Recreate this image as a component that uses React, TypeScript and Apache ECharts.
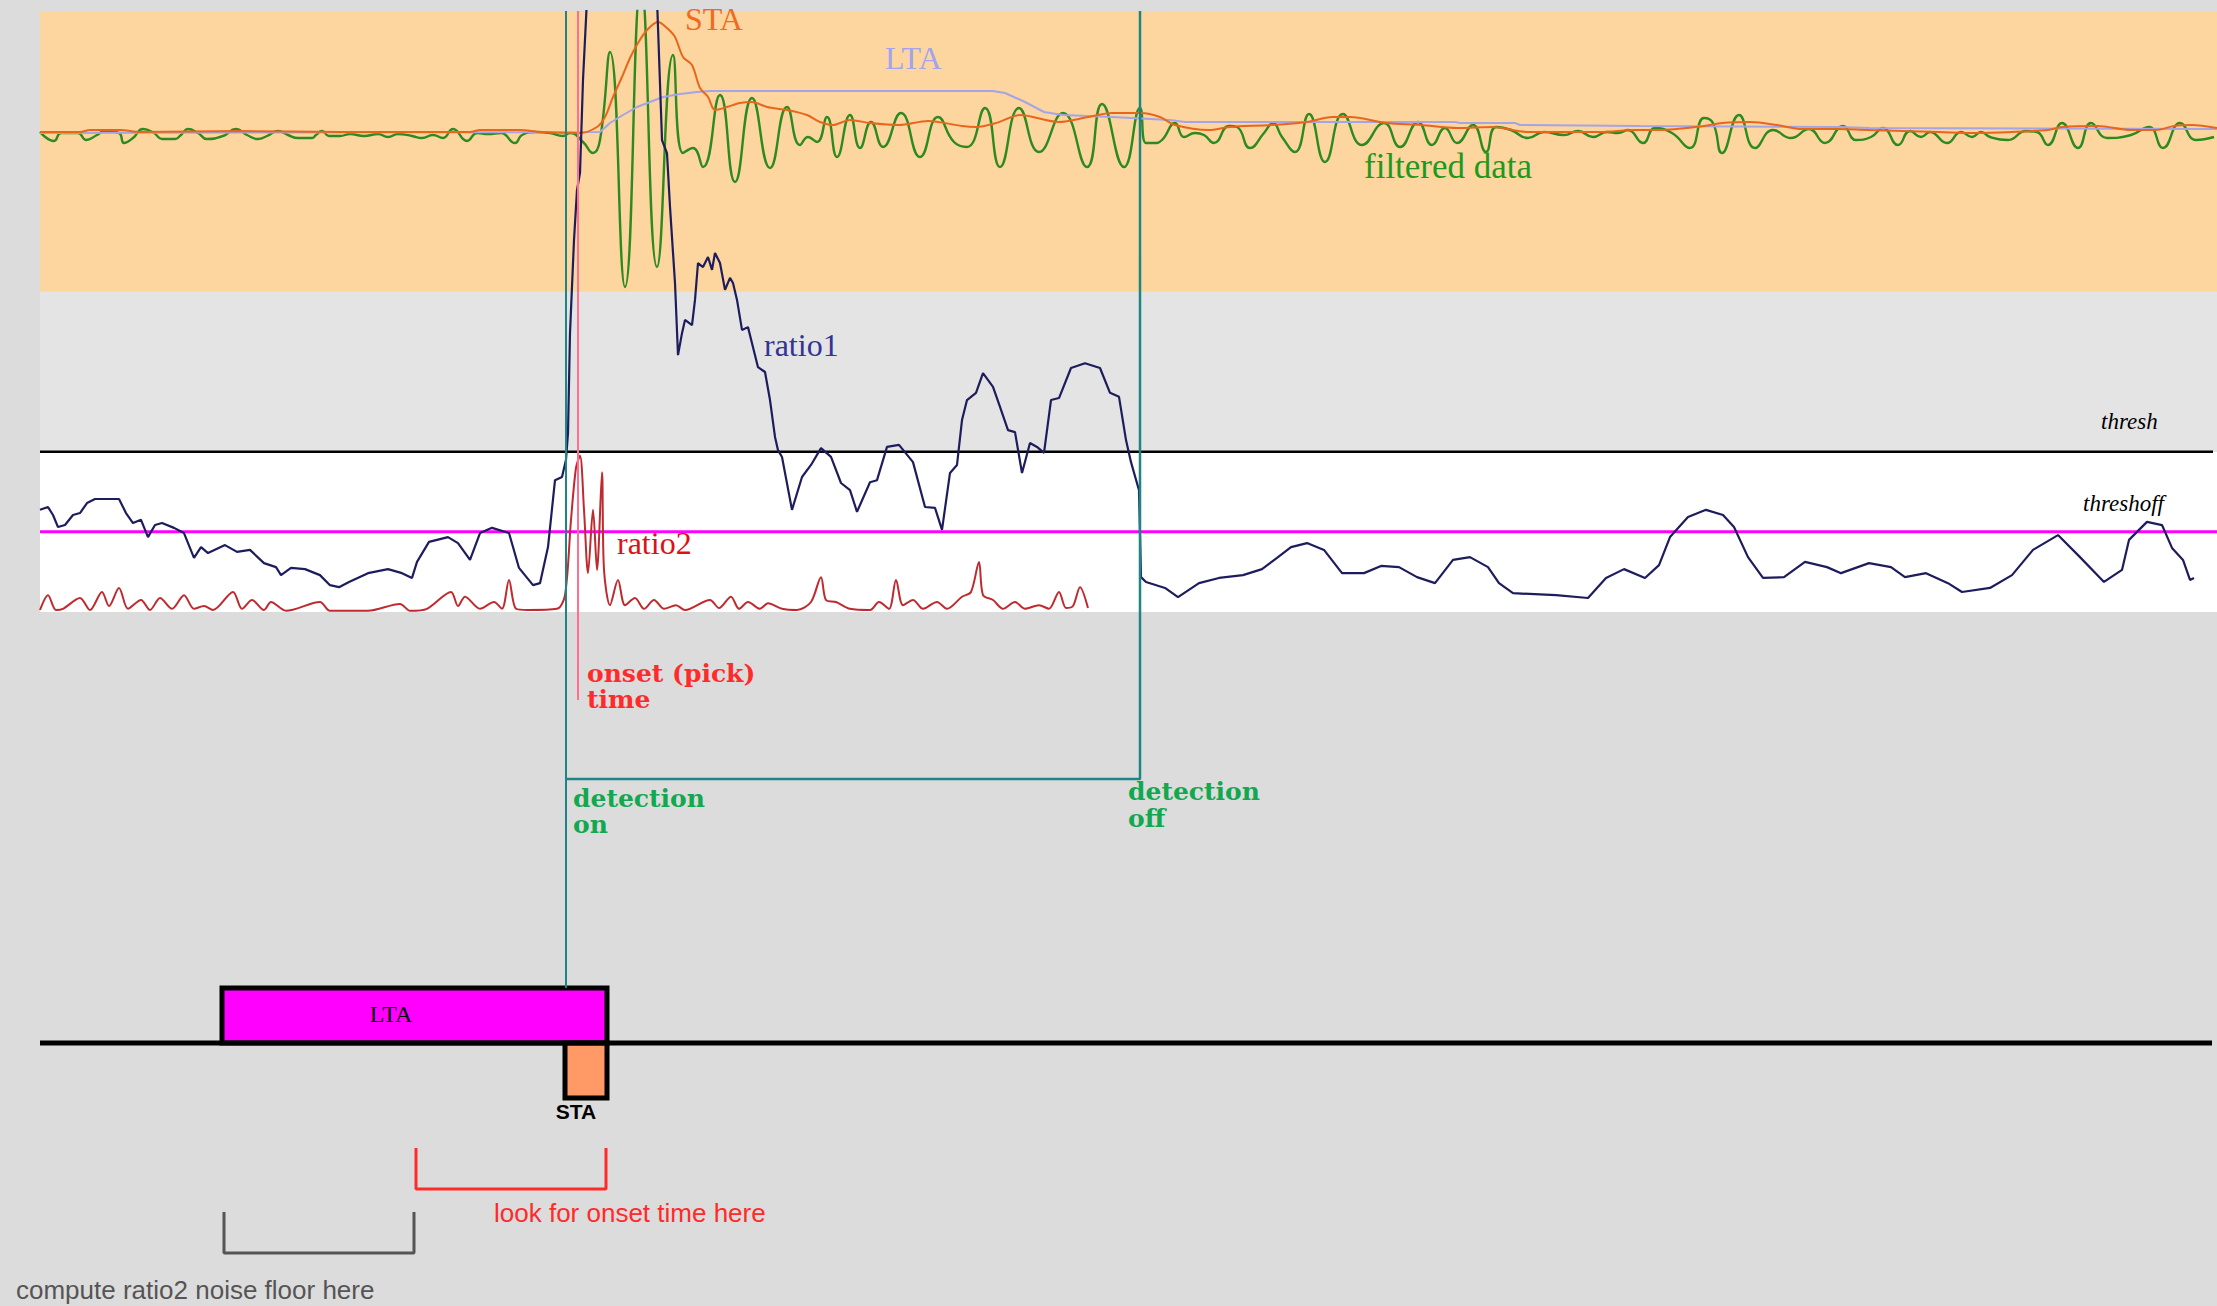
import React, { useEffect, useRef } from "react";
import * as echarts from "echarts";

// Time axis runs in samples across the full trace width.
const T_MAX = 2177;

// Band-passed seismogram (amplitude units).
const filteredData: [number, number][] = [
  [0, 0.1], [14, -0.8], [21, 0], [38, 0], [46, -0.7], [57, -0.2], [64, 0.2], [79, 0], [84, -1.0], [93, -0.5],
  [103, 0.4], [114, 0], [122, -0.6], [135, -0.6], [141, -0.2], [148, 0.4], [158, 0], [167, -0.6], [183, -0.3],
  [196, 0.4], [207, -0.2], [218, -0.6], [227, -0.3], [238, 0.2], [248, -0.2], [258, -0.5], [272, -0.5], [276, -0.2],
  [282, 0.2], [289, -0.3], [300, -0.3], [310, -0.1], [324, -0.3], [338, -0.1], [348, -0.4], [358, -0.1], [372, -0.3],
  [382, -0.5], [393, -0.2], [403, -0.5], [413, 0.4], [427, -0.8], [437, 0], [448, -0.1], [461, 0], [475, -1.0],
  [482, -0.2], [496, 0.1], [510, 0], [523, -0.3], [530, 0], [543, -0.9], [553, -2.0], [560, -0.7], [570, 8.1],
  [585, -15.4], [601, 15], [617, -13.4], [633, 7.8], [643, -2.0], [653, -1.5], [663, -3.4], [680, 3.8], [695, -4.9],
  [712, 3.5], [730, -3.5], [747, 2.6], [760, -1.2], [768, -0.4], [777, -0.9], [787, 1.6], [797, -2.4], [810, 1.8],
  [820, -1.5], [831, 1.1], [843, -1.4], [861, 2.0], [880, -2.4], [898, 1.6], [914, -0.9], [927, -1.4], [945, 2.5],
  [960, -3.4], [979, 2.5], [999, -1.9], [1023, 2.0], [1047, -3.4], [1062, 2.9], [1084, -3.4], [1100, 2.5],
  [1106, -1.0], [1114, -1.0], [1122, -0.7], [1135, 1.0], [1144, -0.4], [1155, 0], [1164, -0.2], [1174, -1.0],
  [1189, 0.7], [1197, 0.6], [1210, -1.5], [1224, 0], [1233, 1.0], [1242, -0.4], [1255, -1.9], [1269, 1.9],
  [1285, -2.9], [1303, 1.9], [1322, -1.2], [1344, 1.0], [1360, -1.4], [1378, 1.1], [1392, -1.2], [1405, 0.5],
  [1417, -1.0], [1433, 0.8], [1446, -1.9], [1456, 0.6], [1471, 0.3], [1488, -0.5], [1504, 0.1], [1524, -0.2],
  [1538, 0.2], [1553, -0.4], [1567, 0.1], [1578, 0], [1588, 0.3], [1603, -1.0], [1615, 0.5], [1632, 0],
  [1650, -1.5], [1664, 1.5], [1673, 1.0], [1682, -2.0], [1699, 1.8], [1715, -1.5], [1733, 0.3], [1751, -0.5],
  [1769, 0.4], [1785, -1.0], [1803, 0.7], [1816, -0.7], [1831, -0.4], [1843, 0.5], [1858, -1.2], [1870, 0.2],
  [1881, -0.4], [1890, 0.1], [1907, -1.0], [1921, 0.1], [1932, -0.4], [1941, 0.1], [1950, -0.4], [1968, -0.7],
  [1986, 0.2], [1997, 0.1], [2008, -1.2], [2022, 1.0], [2038, -1.5], [2051, 1.0], [2067, -0.5], [2091, -0.2],
  [2109, 0.6], [2123, -1.5], [2140, 1.0], [2156, -0.7], [2174, -0.4],
];

// Short-term average of the signal.
const staData: [number, number][] = [
  [0, 0.1], [40, 0.1], [50, 0.3], [80, 0.3], [100, 0.1], [200, 0.2], [300, 0.1], [430, 0.1], [440, 0.3],
  [480, 0.3], [500, 0.1], [540, 0], [557, 0.6], [565, 1.6], [573, 3.6], [582, 5.6], [590, 7.5], [598, 9.0],
  [607, 10.3], [618, 11.1], [627, 10.5], [635, 9.6], [643, 7.6], [652, 6.8], [660, 4.5], [668, 3.6], [675, 2.3],
  [687, 2.6], [700, 3.0], [712, 3.1], [727, 2.6], [747, 2.3], [767, 1.8], [780, 1.1], [793, 0.8], [810, 1.3],
  [830, 1.0], [859, 0.8], [888, 1.2], [922, 0.7], [936, 0.6], [956, 1.0], [980, 1.8], [1019, 1.1], [1048, 1.6],
  [1072, 2.0], [1101, 2.0], [1120, 1.6], [1135, 0.8], [1169, 0.3], [1189, 0.6], [1231, 0.8], [1267, 1.1],
  [1292, 1.6], [1310, 1.6], [1346, 1.0], [1381, 0.8], [1417, 0.5], [1453, 0.6], [1488, 0.1], [1524, 0.1],
  [1560, 0.1], [1596, 0.3], [1620, 0.3], [1664, 0.7], [1682, 1.0], [1711, 1.1], [1737, 0.8], [1762, 0.4],
  [1798, 0.4], [1827, 0.3], [1899, 0.1], [1935, 0], [1972, 0.1], [2008, 0.3], [2022, 0.6], [2058, 0.7],
  [2091, 0.3], [2116, 0.3], [2134, 0.7], [2152, 0.8], [2177, 0.5],
];

// Long-term average of the signal.
const ltaData: [number, number][] = [
  [0, 0], [560, 0.1], [570, 1.0], [583, 1.8], [597, 2.6], [610, 3.1], [623, 3.6], [640, 3.9], [657, 4.1],
  [670, 4.2], [953, 4.2], [965, 4.0], [985, 3.1], [1004, 2.1], [1023, 1.8], [1072, 1.6], [1130, 1.3],
  [1145, 1.1], [1415, 1.1], [1420, 1.0], [1475, 1.0], [1480, 0.8], [1600, 0.7], [1800, 0.6], [1830, 0.5],
  [2177, 0.4],
];

// STA/LTA ratio used for triggering.
const ratio1Data: [number, number][] = [
  [0, 2.55], [8, 2.62], [13, 2.42], [18, 2.12], [25, 2.17], [33, 2.42], [40, 2.47], [47, 2.72], [55, 2.82],
  [79, 2.82], [86, 2.47], [93, 2.22], [101, 2.3], [108, 1.87], [115, 2.17], [122, 2.22], [134, 2.1], [144, 1.97],
  [154, 1.35], [161, 1.62], [168, 1.47], [185, 1.67], [197, 1.5], [210, 1.55], [224, 1.22], [236, 1.12],
  [241, 0.92], [251, 1.1], [265, 1.07], [280, 0.92], [290, 0.67], [299, 0.62], [309, 0.75], [328, 0.97],
  [348, 1.07], [362, 0.97], [372, 0.85], [377, 1.25], [389, 1.75], [408, 1.87], [418, 1.72], [430, 1.3],
  [440, 1.97], [452, 2.1], [469, 1.97], [479, 1.1], [493, 0.67], [500, 0.72], [508, 1.62], [515, 3.29],
  [522, 3.37], [526, 3.8], [528, 4.47], [530, 6.96], [534, 9.28], [537, 10.53], [540, 10.96], [543, 13.28],
  [547, 15.3], [560, 19], [600, 19], [617, 15.3], [622, 11.78], [627, 11.45], [630, 10.11], [635, 8.21],
  [638, 6.41], [642, 6.96], [645, 7.29], [652, 7.16], [655, 7.79], [658, 8.71], [663, 8.61], [668, 8.86],
  [672, 8.54], [675, 8.96], [680, 8.71], [685, 8.04], [690, 8.34], [693, 8.21], [697, 7.79], [702, 7.04],
  [708, 7.11], [713, 6.61], [718, 6.11], [725, 5.99], [730, 5.29], [735, 4.37], [738, 4.04], [742, 3.87],
  [752, 2.55], [762, 3.37], [771, 3.67], [781, 4.09], [791, 3.87], [801, 3.22], [810, 3.04], [817, 2.5],
  [830, 3.24], [837, 3.29], [847, 4.12], [859, 4.17], [873, 3.74], [885, 2.62], [895, 2.6], [902, 2.05],
  [910, 3.47], [917, 3.67], [922, 4.79], [927, 5.29], [936, 5.47], [943, 5.96], [953, 5.62], [960, 5.12],
  [968, 4.54], [975, 4.49], [982, 3.47], [990, 4.22], [997, 4.12], [1004, 3.97], [1011, 5.29], [1019, 5.34],
  [1031, 6.09], [1045, 6.21], [1060, 6.09], [1070, 5.47], [1079, 5.37], [1086, 4.29], [1091, 3.74],
  [1099, 3.04], [1101, 0.87], [1106, 0.75], [1125, 0.6], [1138, 0.37], [1159, 0.72], [1179, 0.85],
  [1203, 0.92], [1222, 1.07], [1237, 1.35], [1251, 1.62], [1267, 1.72], [1284, 1.55], [1302, 0.97],
  [1324, 0.97], [1341, 1.15], [1359, 1.12], [1377, 0.87], [1395, 0.72], [1413, 1.3], [1430, 1.37],
  [1448, 1.12], [1459, 0.72], [1473, 0.47], [1516, 0.42], [1548, 0.35], [1566, 0.85], [1584, 1.07],
  [1605, 0.85], [1619, 1.17], [1630, 1.87], [1648, 2.37], [1666, 2.55], [1683, 2.42], [1694, 2.12],
  [1708, 1.37], [1723, 0.85], [1744, 0.87], [1765, 1.25], [1787, 1.12], [1801, 0.97], [1829, 1.22],
  [1851, 1.12], [1865, 0.87], [1886, 0.97], [1908, 0.72], [1922, 0.5], [1950, 0.6], [1972, 0.92],
  [1993, 1.55], [2018, 1.92], [2040, 1.37], [2064, 0.75], [2082, 1.05], [2089, 1.8], [2107, 2.25],
  [2122, 2.17], [2132, 1.6], [2143, 1.3], [2150, 0.8], [2154, 0.85],
];

// Second ratio used to refine the onset pick.
const ratio2Data: [number, number][] = [
  [0, 0.05], [8, 0.42], [16, 0.05], [23, 0.08], [40, 0.35], [50, 0.05], [62, 0.5], [69, 0.15], [79, 0.6],
  [88, 0.08], [101, 0.3], [110, 0.05], [120, 0.35], [132, 0.08], [144, 0.42], [154, 0.08], [164, 0.15],
  [173, 0.05], [193, 0.5], [202, 0.08], [212, 0.3], [224, 0.05], [231, 0.25], [246, 0.03], [280, 0.25],
  [290, 0.03], [328, 0.03], [360, 0.2], [370, 0.03], [387, 0.08], [411, 0.5], [418, 0.15], [425, 0.38],
  [440, 0.08], [454, 0.25], [462, 0.08], [469, 0.8], [476, 0.08], [488, 0.05], [517, 0.08], [525, 0.42],
  [531, 2.3], [536, 3.6], [540, 3.9], [544, 2.55], [548, 0.97], [553, 2.55], [557, 1.05], [562, 3.49],
  [564, 1.05], [570, 0.17], [578, 0.8], [585, 0.17], [595, 0.35], [604, 0.08], [614, 0.3], [624, 0.08],
  [636, 0.17], [645, 0.05], [670, 0.3], [679, 0.1], [691, 0.38], [699, 0.08], [708, 0.25], [720, 0.08],
  [728, 0.22], [742, 0.08], [757, 0.05], [771, 0.25], [781, 0.87], [786, 0.3], [796, 0.25], [810, 0.08],
  [830, 0.05], [839, 0.25], [849, 0.08], [856, 0.8], [863, 0.17], [873, 0.3], [883, 0.08], [897, 0.25],
  [907, 0.08], [922, 0.38], [931, 0.5], [939, 1.25], [943, 0.42], [953, 0.3], [963, 0.08], [975, 0.25],
  [985, 0.08], [999, 0.17], [1009, 0.08], [1019, 0.5], [1026, 0.1], [1033, 0.15], [1040, 0.62], [1048, 0.1],
];

// Trigger levels on the ratio scale.
const THRESH = 4;
const THRESHOFF = 2;

// Event times (samples).
const DETECTION_ON = 526;
const ONSET_PICK = 538;
const DETECTION_OFF = 1100;

// Averaging windows and search spans (samples).
const LTA_WINDOW = [182, 567];
const STA_WINDOW = [525, 567];
const ONSET_SEARCH = [376, 566];
const NOISE_WINDOW = [184, 374];

// Ratio ranges of the background bands: white, grey, orange.
const BAND_LIMITS = [0, 4, 8, 15];

// Layout of the schematic below the traces (depth in px below plot top).
const ROW = {
  onsetTick: 689,
  detectionBox: 768,
  ltaTop: 977,
  base: 1032,
  staBottom: 1087,
  searchTop: 1137,
  searchBottom: 1178,
  noiseTop: 1201,
  noiseBottom: 1242,
};

const SERIF = '"Liberation Serif", "Times New Roman", serif';
const BOLD_SERIF = '"DejaVu Serif", "Liberation Serif", serif';
const SANS = '"Liberation Sans", Arial, sans-serif';

function label(text: string, x: number, y: number, font: string, fill: string, align = "left") {
  return {
    type: "text",
    x,
    y,
    z: 100,
    silent: true,
    style: {
      text,
      font,
      fill,
      align,
      verticalAlign: "middle",
      textAlign: align,
      textVerticalAlign: "middle",
    },
  };
}

function lineSeries(
  name: string,
  data: any[],
  yAxisIndex: number,
  color: string,
  width: number,
  z: number,
  smooth: number | boolean = false
) {
  return {
    name,
    type: "line",
    data,
    yAxisIndex,
    xAxisIndex: 0,
    symbol: "none",
    showSymbol: false,
    silent: true,
    smooth,
    z,
    lineStyle: { color, width },
  };
}

export default function App() {
  const ref = useRef<HTMLDivElement>(null);

  useEffect(() => {
    if (!ref.current) return;
    const chart = echarts.init(ref.current, undefined, { renderer: "svg" });

    const bandColors = ["#ffffff", "#e4e4e4", "#fdd59f"];
    const bandAreas = bandColors.map((color, i) => [
      { xAxis: 0, yAxis: BAND_LIMITS[i], itemStyle: { color } },
      { xAxis: T_MAX, yAxis: BAND_LIMITS[i + 1] },
    ]);

    const option: any = {
      animation: false,
      backgroundColor: "#dcdcdc",
      grid: { left: 40, right: 0, top: 11, bottom: 0, containLabel: false },
      xAxis: { type: "value", min: 0, max: T_MAX, show: false },
      yAxis: [
        // ratio scale: 0 at the foot of the white band, 15 at the top
        { type: "value", min: -17.321, max: 15, show: false, splitLine: { show: false } },
        // amplitude scale for the traces
        { type: "value", min: -117.3, max: 12.2, show: false, splitLine: { show: false } },
        // schematic depth scale
        { type: "value", min: 0, max: 1295, inverse: true, show: false, splitLine: { show: false } },
      ],
      series: [
        {
          name: "bands",
          type: "line",
          data: [],
          yAxisIndex: 0,
          silent: true,
          z: 0,
          markArea: { silent: true, data: bandAreas, label: { show: false } },
        },
        lineSeries("thresh", [[0, THRESH], [T_MAX - 4, THRESH]], 0, "#000000", 2.5, 2),
        lineSeries("threshoff", [[0, THRESHOFF], [T_MAX, THRESHOFF]], 0, "#ff00ff", 3, 2),
        lineSeries("ratio2", ratio2Data, 0, "#bf2a2e", 2, 3, 0.3),
        lineSeries("filtered data", filteredData, 1, "#2c8a1e", 2.4, 3, 0.5),
        lineSeries("LTA", ltaData, 1, "#a4a4e6", 2, 4),
        lineSeries("STA", staData, 1, "#e8661c", 2, 4, 0.3),
        lineSeries("ratio1", ratio1Data, 0, "#1d1d5e", 2.2, 5),
        lineSeries("detection on", [[DETECTION_ON, 0], [DETECTION_ON, ROW.ltaTop]], 2, "#1e8585", 2, 6),
        lineSeries(
          "detection window",
          [[DETECTION_ON, ROW.detectionBox], [DETECTION_OFF, ROW.detectionBox], [DETECTION_OFF, 0]],
          2,
          "#1e8585",
          2.5,
          6
        ),
        lineSeries("onset", [[ONSET_PICK, 0], [ONSET_PICK, ROW.onsetTick]], 2, "#ff6f8f", 2, 6),
        lineSeries("timeline", [[0, ROW.base], [T_MAX - 5, ROW.base]], 2, "#000000", 5, 3),
        {
          name: "windows",
          type: "line",
          data: [],
          yAxisIndex: 2,
          silent: true,
          z: 4,
          markArea: {
            silent: true,
            label: { show: false },
            data: [
              [
                { xAxis: LTA_WINDOW[0], yAxis: ROW.ltaTop, itemStyle: { color: "#ff00ff", borderColor: "#000", borderWidth: 5 } },
                { xAxis: LTA_WINDOW[1], yAxis: ROW.base },
              ],
              [
                { xAxis: STA_WINDOW[0], yAxis: ROW.base, itemStyle: { color: "#ff9966", borderColor: "#000", borderWidth: 5 } },
                { xAxis: STA_WINDOW[1], yAxis: ROW.staBottom },
              ],
            ],
          },
        },
        lineSeries(
          "onset search",
          [[ONSET_SEARCH[0], ROW.searchTop], [ONSET_SEARCH[0], ROW.searchBottom], [ONSET_SEARCH[1], ROW.searchBottom], [ONSET_SEARCH[1], ROW.searchTop]],
          2,
          "#ff2a2a",
          3,
          4
        ),
        lineSeries(
          "noise window",
          [[NOISE_WINDOW[0], ROW.noiseTop], [NOISE_WINDOW[0], ROW.noiseBottom], [NOISE_WINDOW[1], ROW.noiseBottom], [NOISE_WINDOW[1], ROW.noiseTop]],
          2,
          "#555555",
          3,
          4
        ),
      ],
      graphic: [
        label("STA", 685, 19, `32px ${SERIF}`, "#f26a1b"),
        label("LTA", 885, 58, `32px ${SERIF}`, "#a3a3ee"),
        label("filtered data", 1364, 166, `35px ${SERIF}`, "#1c9a1c"),
        label("ratio1", 764, 345, `32px ${SERIF}`, "#333399"),
        label("ratio2", 617, 543, `32px ${SERIF}`, "#dd1111"),
        label("thresh", 2101, 421, `italic 23px ${SERIF}`, "#000000"),
        label("threshoff", 2083, 503, `italic 23px ${SERIF}`, "#000000"),
        label("onset (pick)", 587, 673, `bold 25px ${BOLD_SERIF}`, "#ff2b2b"),
        label("time", 587, 699, `bold 25px ${BOLD_SERIF}`, "#ff2b2b"),
        label("detection", 573, 798, `bold 25px ${BOLD_SERIF}`, "#12a850"),
        label("on", 573, 824, `bold 25px ${BOLD_SERIF}`, "#12a850"),
        label("detection", 1128, 791, `bold 25px ${BOLD_SERIF}`, "#12a850"),
        label("off", 1128, 818, `bold 25px ${BOLD_SERIF}`, "#12a850"),
        label("LTA", 391, 1014, `24px ${SERIF}`, "#000000", "center"),
        label("STA", 576, 1111, `bold 21px ${SANS}`, "#000000", "center"),
        label("look for onset time here", 494, 1213, `26px ${SANS}`, "#ff2a2a"),
        label("compute ratio2 noise floor here", 16, 1290, `26px ${SANS}`, "#555555"),
      ],
    };

    chart.setOption(option);
    return () => chart.dispose();
  }, []);

  return (
    <div
      ref={ref}
      style={{ position: "fixed", left: 0, top: 0, width: 2217, height: 1306, background: "#dcdcdc" }}
    />
  );
}
